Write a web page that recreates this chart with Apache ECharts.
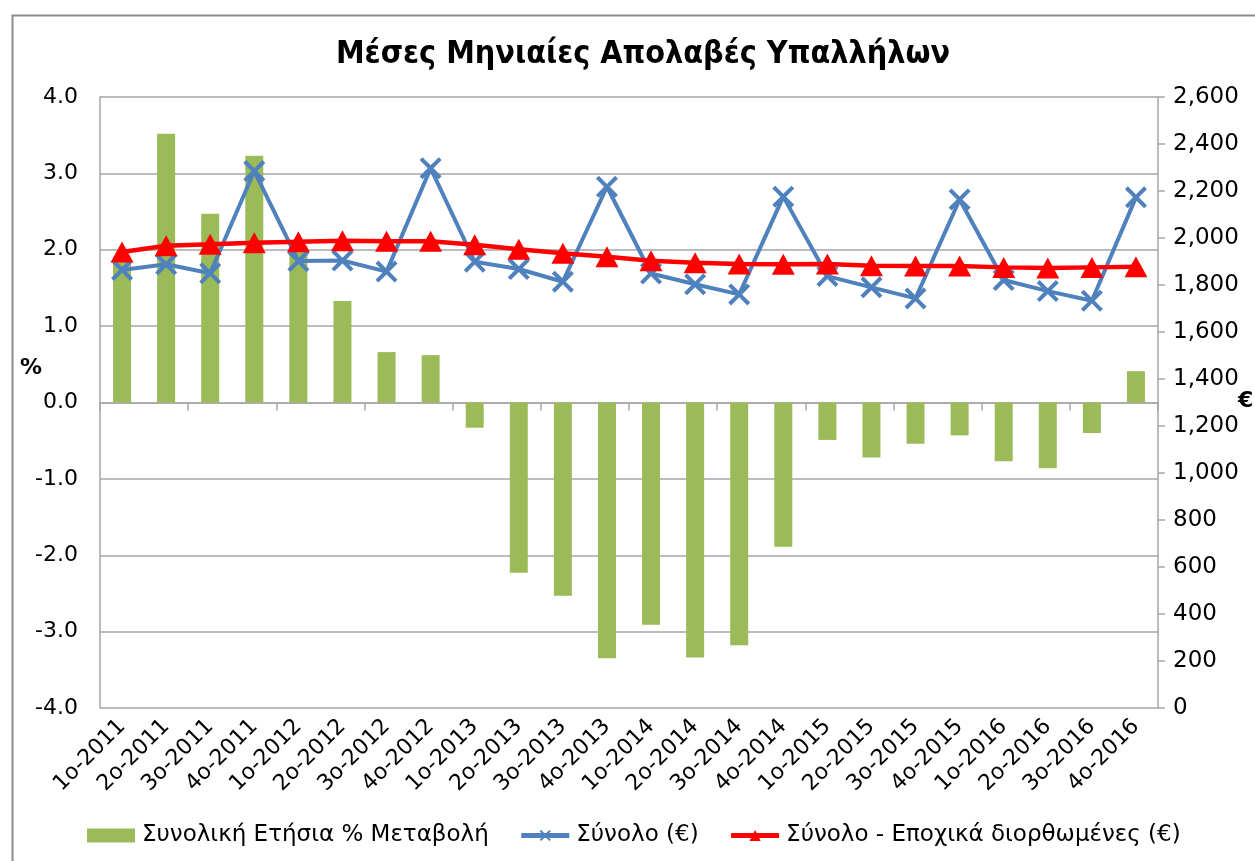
<!DOCTYPE html>
<html><head><meta charset="utf-8">
<script src="https://cdn.jsdelivr.net/npm/echarts@6/dist/echarts.min.js"></script>
<style>html,body{margin:0;padding:0;background:#fff}#c{width:1255px;height:861px}</style>
</head><body><div id="c"></div>
<script>
const categories = ['1ο-2011','2ο-2011','3ο-2011','4ο-2011','1ο-2012','2ο-2012','3ο-2012','4ο-2012',
  '1ο-2013','2ο-2013','3ο-2013','4ο-2013','1ο-2014','2ο-2014','3ο-2014','4ο-2014',
  '1ο-2015','2ο-2015','3ο-2015','4ο-2015','1ο-2016','2ο-2016','3ο-2016','4ο-2016'];
const annualChange = [1.85, 3.52, 2.47, 3.23, 2.05, 1.33, 0.66, 0.62,
  -0.33, -2.23, -2.53, -3.35, -2.91, -3.34, -3.18, -1.89,
  -0.49, -0.72, -0.54, -0.43, -0.77, -0.86, -0.40, 0.41];
const total = [1864, 1888, 1850, 2285, 1902, 1904, 1857, 2297,
  1899, 1868, 1814, 2218, 1849, 1803, 1760, 2176,
  1838, 1790, 1743, 2164, 1821, 1774, 1733, 2173];
const totalSA = [1940, 1967, 1973, 1980, 1984, 1988, 1986, 1986,
  1971, 1952, 1935, 1920, 1903, 1895, 1889, 1888,
  1889, 1882, 1881, 1881, 1875, 1872, 1875, 1878];
const seriesNames = ['Συνολική Ετήσια % Μεταβολή', 'Σύνολο (€)', 'Σύνολο - Εποχικά διορθωμένες (€)'];
const titleText = 'Μέσες Μηνιαίες Απολαβές Υπαλλήλων';

const FONT = '"DejaVu Sans", Verdana, sans-serif';
const GRID = '#a6a6a6';
const xSymbol = 'path://M0,1.3 L1.3,0 L5,3.7 L8.7,0 L10,1.3 L6.3,5 L10,8.7 L8.7,10 L5,6.3 L1.3,10 L0,8.7 L3.7,5 Z';

const chart = echarts.init(document.getElementById('c'), null, {renderer: 'canvas'});
chart.setOption({
  backgroundColor: '#fff',
  animation: false,
  title: {
    text: titleText, left: 638, top: 34, textAlign: 'center',
    textStyle: {fontFamily: '"DejaVu Sans Condensed", "DejaVu Sans", sans-serif', fontWeight: 'bold', fontSize: 32, color: '#000'}
  },
  graphic: [
    {type: 'rect', left: 10, top: 13, shape: {width: 1260, height: 870}, style: {fill: 'none', stroke: '#8c8c8c', lineWidth: 2}, silent: true},
    {type: 'text', left: 20, top: 357, style: {text: '%', fontFamily: FONT, fontWeight: 'bold', fontSize: 22, fill: '#000'}},
    {type: 'text', left: 1238, top: 390, style: {text: '€', fontFamily: FONT, fontWeight: 'bold', fontSize: 22, fill: '#000'}}
  ],
  legend: {
    left: 82, top: 819, itemWidth: 48, itemHeight: 14, itemGap: 30,
    textStyle: {fontFamily: FONT, fontSize: 23, color: '#000', padding: [0, 0, 0, 2]},
    data: [
      {name: seriesNames[0], icon: 'rect', itemStyle: {color: '#9bbb59'}},
      {name: seriesNames[1], lineStyle: {width: 5, color: '#4f81bd'}},
      {name: seriesNames[2], lineStyle: {width: 5, color: '#ff0000'}}
    ]
  },
  grid: {left: 100, right: 97, top: 97, bottom: 153, containLabel: false},
  xAxis: [
    {
      type: 'category', data: categories, position: 'bottom',
      axisLine: {show: false, onZero: false}, axisTick: {show: false},
      axisLabel: {rotate: 45, fontFamily: FONT, fontSize: 22, color: '#000', margin: 15, interval: 0}
    },
    {
      type: 'category', data: categories, position: 'bottom',
      axisLine: {show: true, onZero: true, onZeroAxisIndex: 0, lineStyle: {color: GRID, width: 1.5}},
      axisTick: {show: true, inside: false, length: 8, lineStyle: {color: GRID, width: 1.5}},
      axisLabel: {show: false}, splitLine: {show: false}
    }
  ],
  yAxis: [
    {
      type: 'value', min: -4, max: 4, interval: 1, position: 'left',
      axisLine: {show: true, lineStyle: {color: GRID, width: 1.5}}, axisTick: {show: false},
      axisLabel: {formatter: v => v.toFixed(1), fontFamily: FONT, fontSize: 22, color: '#000', margin: 22},
      splitLine: {show: true, lineStyle: {color: GRID, width: 1.5}}
    },
    {
      type: 'value', min: 0, max: 2600, interval: 200, position: 'right',
      axisLine: {show: true, lineStyle: {color: GRID, width: 1.5}},
      axisTick: {show: true, length: 7, lineStyle: {color: GRID, width: 1.5}},
      axisLabel: {formatter: v => v.toLocaleString('en-US'), fontFamily: FONT, fontSize: 23, color: '#000', margin: 15},
      splitLine: {show: false}
    }
  ],
  series: [
    {
      name: seriesNames[0], type: 'bar', xAxisIndex: 0, yAxisIndex: 0, data: annualChange,
      barWidth: 18, itemStyle: {color: '#9bbb59'}, z: 2
    },
    {
      name: seriesNames[1], type: 'line', xAxisIndex: 0, yAxisIndex: 1, data: total,
      symbol: xSymbol, symbolSize: 22, showAllSymbol: true,
      lineStyle: {color: '#4f81bd', width: 4}, itemStyle: {color: '#4f81bd'}, z: 3
    },
    {
      name: seriesNames[2], type: 'line', xAxisIndex: 0, yAxisIndex: 1, data: totalSA,
      symbol: 'triangle', symbolSize: [23, 21], showAllSymbol: true,
      lineStyle: {color: '#ff0000', width: 4.5}, itemStyle: {color: '#ff0000'}, z: 4
    }
  ]
});
</script>
</body></html>
